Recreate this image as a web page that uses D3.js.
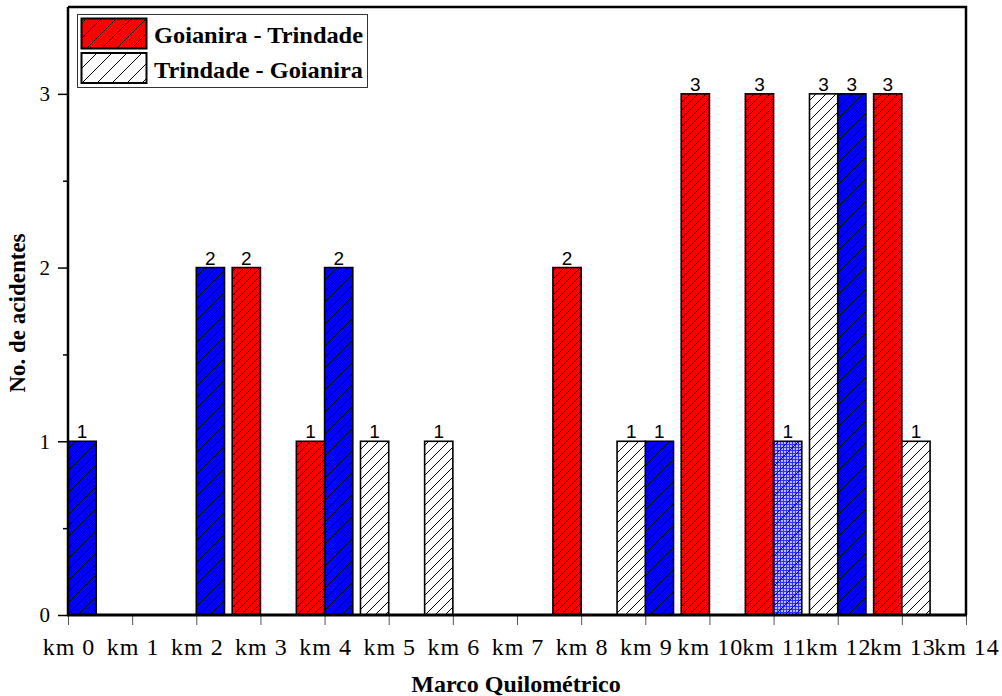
<!DOCTYPE html>
<html>
<head>
<meta charset="utf-8">
<script src="https://cdn.jsdelivr.net/npm/d3@7"></script>
<style>
	html, body { margin: 0; padding: 0; background: #fff; }
	svg { display: block; }
</style>
</head>
<body>
<svg id="chart" width="1002" height="696"></svg>
<script>

// km markers on the x axis
var kmTicks = [0, 1, 2, 3, 4, 5, 6, 7, 8, 9, 10, 11, 12, 13, 14];
var yTicks = [0, 1, 2, 3];
var yMinor = [0.5, 1.5, 2.5];

// Goianira - Trindade (red)
var goianiraX = [2.78, 3.78, 7.78, 9.78, 10.78, 12.78];
var goianiraY = [2, 1, 2, 3, 3, 3];

// Trindade - Goianira (white)
var trindadeX = [4.78, 5.78, 8.78, 11.78, 13.22];
var trindadeY = [1, 1, 1, 3, 1];

// blue bars (no legend entry)
var blueX = [0.22, 2.22, 4.22, 9.22, 12.22];
var blueY = [1, 2, 2, 1, 3];

// blue squared bar
var gridX = [11.22];
var gridY = [1];

var legendNames = ['Goianira - Trindade', 'Trindade - Goianira'];

var SERIF = "'Liberation Serif', 'Times New Roman', serif";
var SANS = "'Liberation Sans', Arial, sans-serif";

var svg = d3.select('#chart');
var L = 68, R = 966, T = 7, B = 615;
var x = d3.scaleLinear().domain([0, 14]).range([L, R]);
var y = d3.scaleLinear().domain([0, 3.5]).range([B, T]);
var bw = 0.44;

// hatch patterns
var defs = svg.append('defs');
function hatch(id, bg, step, width) {
	var p = defs.append('pattern').attr('id', id).attr('patternUnits', 'userSpaceOnUse')
		.attr('width', step).attr('height', step);
	if (bg)
		p.append('rect').attr('width', step).attr('height', step).attr('fill', bg);
	p.append('path').attr('d', 'M0,' + step + 'L' + step + ',0M-1,1L1,-1M' + (step - 1) + ',' + (step + 1) + 'L' + (step + 1) + ',' + (step - 1))
		.attr('stroke', '#000').attr('stroke-width', width || 1);
	return 'url(#' + id + ')';
}
var fillRed = hatch('hred', '#ff0000', 8);
var fillWhite = hatch('hwhite', '#fff', 10);
var fillBlue = hatch('hblue', '#0000ff', 11);
var fillOver = hatch('hgrid', null, 10, 0.9);
var legRed = hatch('lred', '#ff0000', 15);
var legWhite = hatch('lwhite', '#fff', 15);

var gp = defs.append('pattern').attr('id', 'gblue').attr('patternUnits', 'userSpaceOnUse').attr('width', 3).attr('height', 3);
gp.append('rect').attr('width', 3).attr('height', 3).attr('fill', '#a0a0ff');
gp.append('path').attr('d', 'M0,0.5H3M0.5,0V3').attr('stroke', '#3030ff').attr('stroke-width', 1);
gp.append('rect').attr('x', 1.5).attr('y', 1.5).attr('width', 1).attr('height', 1).attr('fill', '#fff');

function series(xs, ys, fill, over) {
	var data = xs.map(function(d, i) { return { x: d, v: ys[i] }; });
	var g = svg.append('g');
	var layers = [fill];
	if (over)
		layers.push(over);
	layers.forEach(function(f, k) {
		g.selectAll('rect.l' + k).data(data).enter().append('rect').attr('class', 'l' + k)
			.attr('x', function(d) { return x(d.x - bw / 2); })
			.attr('width', function(d) { return x(d.x + bw / 2) - x(d.x - bw / 2); })
			.attr('y', function(d) { return y(d.v); })
			.attr('height', function(d) { return y(0) - y(d.v); })
			.attr('fill', f);
	});
	g.selectAll('rect.edge').data(data).enter().append('rect').attr('class', 'edge')
		.attr('x', function(d) { return x(d.x - bw / 2); })
		.attr('width', function(d) { return x(d.x + bw / 2) - x(d.x - bw / 2); })
		.attr('y', function(d) { return y(d.v); })
		.attr('height', function(d) { return y(0) - y(d.v); })
		.attr('fill', 'none').attr('stroke', '#000').attr('stroke-width', 1.6);
	g.selectAll('text').data(data).enter().append('text')
		.attr('x', function(d) { return x(d.x); })
		.attr('y', function(d) { return y(d.v) - 3; })
		.attr('text-anchor', 'middle').attr('font-family', SANS).attr('font-size', 19).attr('fill', '#000')
		.text(function(d) { return d.v; });
}

series(blueX, blueY, fillBlue);
series(goianiraX, goianiraY, fillRed);
series(trindadeX, trindadeY, fillWhite);
series(gridX, gridY, 'url(#gblue)', fillOver);

// axes
var xAxis = svg.append('g').attr('transform', 'translate(0,' + B + ')')
	.call(d3.axisBottom(x).tickValues(kmTicks).tickSize(10).tickPadding(13).tickFormat(function(d) { return 'km ' + d; }));
xAxis.attr('font-family', SERIF).attr('font-size', 24);
xAxis.select('.domain').remove();
xAxis.selectAll('line').attr('stroke', '#555').attr('stroke-width', 1);
xAxis.selectAll('text').attr('fill', '#000').attr('letter-spacing', 1).attr('dx', 0.5);

var yAxis = svg.append('g').attr('transform', 'translate(' + L + ',0)')
	.call(d3.axisLeft(y).tickValues(yTicks).tickSize(10).tickPadding(8).tickFormat(d3.format('d')));
yAxis.attr('font-family', SERIF).attr('font-size', 21);
yAxis.select('.domain').remove();
yAxis.selectAll('line').attr('stroke', '#000').attr('stroke-width', 1.5);
yAxis.selectAll('text').attr('fill', '#000');

svg.append('g').attr('transform', 'translate(' + L + ',0)')
	.call(d3.axisLeft(y).tickValues(yMinor).tickSize(5).tickFormat(''))
	.call(function(g) { g.select('.domain').remove(); g.selectAll('line').attr('stroke', '#000').attr('stroke-width', 1.5); });

// frame
svg.append('path').attr('d', 'M' + L + ',' + T + 'H' + R + 'V' + B)
	.attr('fill', 'none').attr('stroke', '#000').attr('stroke-width', 2.5);
svg.append('line').attr('x1', L).attr('x2', L).attr('y1', T).attr('y2', B + 1)
	.attr('stroke', '#000').attr('stroke-width', 2.5);
svg.append('line').attr('x1', L - 1).attr('x2', R + 1).attr('y1', B).attr('y2', B)
	.attr('stroke', '#000').attr('stroke-width', 3);

// titles
svg.append('text').attr('x', (L + R) / 2 - 1).attr('y', 692)
	.attr('text-anchor', 'middle').attr('font-family', SERIF).attr('font-size', 24).attr('font-weight', 'bold')
	.text('Marco Quilométrico');
svg.append('text').attr('transform', 'translate(25,313) rotate(-90)')
	.attr('text-anchor', 'middle').attr('font-family', SERIF).attr('font-size', 23).attr('font-weight', 'bold')
	.text('No. de acidentes');

// legend
var lg = svg.append('g');
lg.append('rect').attr('x', 77.5).attr('y', 14.5).attr('width', 290).attr('height', 73)
	.attr('fill', '#fff').attr('stroke', '#333').attr('stroke-width', 1);
[legRed, legWhite].forEach(function(f, i) {
	var yy = 18.5 + i * 34.5;
	lg.append('rect').attr('x', 81.5).attr('y', yy).attr('width', 65).attr('height', 30).attr('fill', f)
		.attr('stroke', '#000').attr('stroke-width', 2);
	lg.append('text').attr('x', 154).attr('y', 43 + i * 34.5)
		.attr('font-family', SERIF).attr('font-size', 24).attr('font-weight', 'bold')
		.attr('textLength', 209).attr('lengthAdjust', 'spacingAndGlyphs')
		.text(legendNames[i]);
});

</script>
</body>
</html>
